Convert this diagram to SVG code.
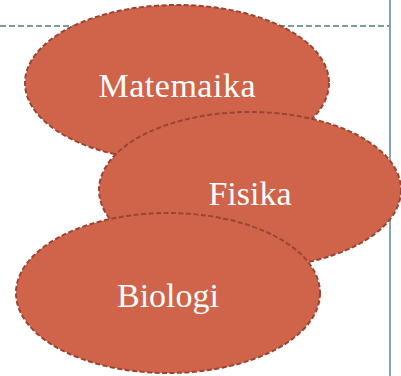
<svg xmlns="http://www.w3.org/2000/svg" width="401" height="376" viewBox="0 0 401 376">
<style>
.bg{fill:none;stroke:#7c9c9c;stroke-width:1.8}
.n ellipse{fill:#d0644a;stroke:#9b4431;stroke-width:2;stroke-dasharray:5 2.5}
.n text{font-family:"Liberation Serif","DejaVu Serif",serif;font-size:34px;fill:#ffffff;text-anchor:middle}
</style>
<rect width="401" height="376" fill="#ffffff"/>
<g id="frame">
<line class="bg" x1="0" y1="26" x2="390" y2="26" stroke-dasharray="6 3"/>
<line class="bg" x1="390" y1="0" x2="390" y2="376"/>
</g>
<g id="connectors"></g>
<g id="matematika" class="n">
<ellipse cx="177" cy="83" rx="152" ry="78"/>
<text x="177" y="97" textLength="157" lengthAdjust="spacing">Matemaika</text>
</g>
<g id="fisika" class="n">
<ellipse cx="250" cy="190" rx="151" ry="78"/>
<text x="250" y="205">Fisika</text>
</g>
<g id="biologi" class="n">
<ellipse cx="168" cy="293" rx="152" ry="80"/>
<text x="168" y="307">Biologi</text>
</g>
</svg>
